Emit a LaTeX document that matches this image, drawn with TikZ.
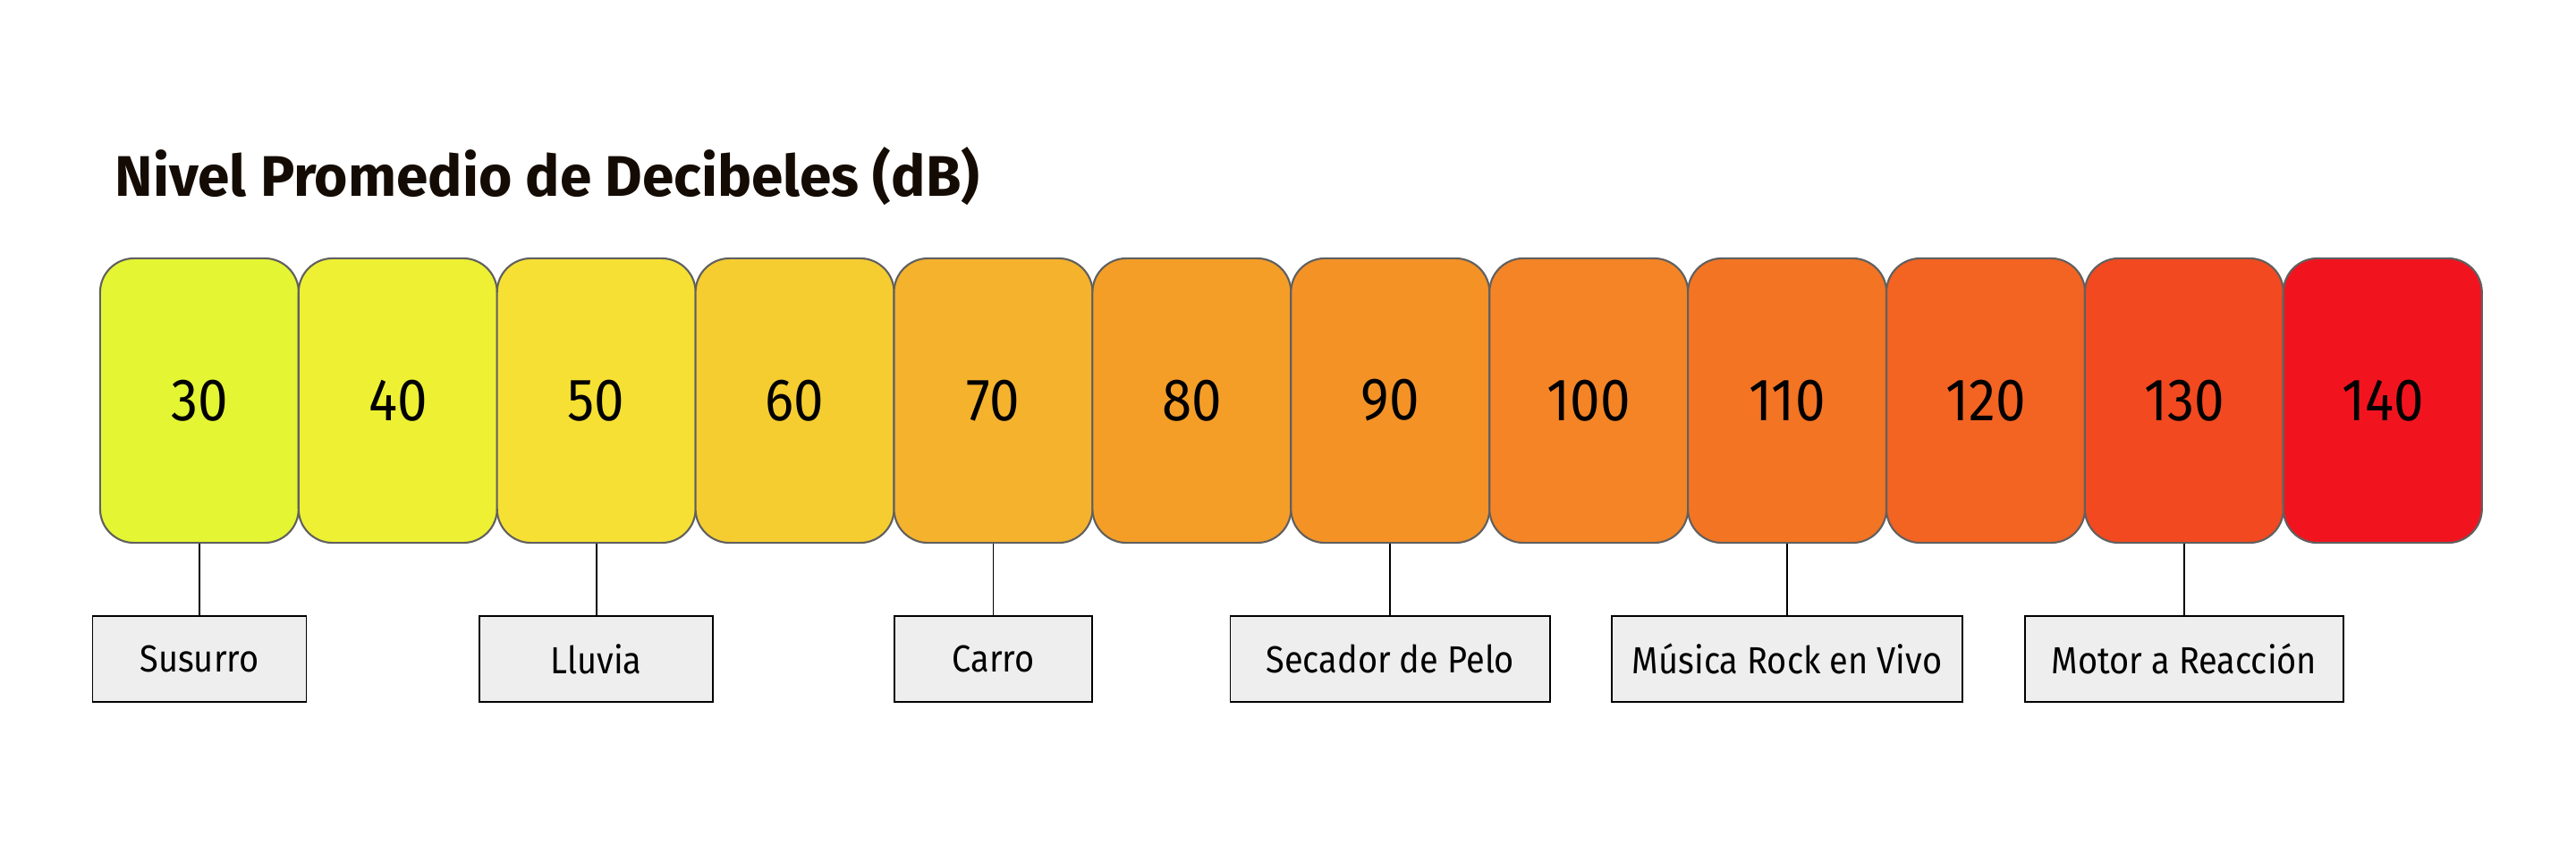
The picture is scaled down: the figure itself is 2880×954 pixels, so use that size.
\documentclass[tikz,border=0pt]{standalone}
\usepackage{fontspec}
\setmainfont{Fira Sans}
\newfontfamily\narrowsans[FakeStretch = 0.9]{Fira Sans}
\usepackage{xcolor}
\definecolor{dtitle}{HTML}{140C04}
\definecolor{dedge}{HTML}{606060}
\definecolor{dlabel}{HTML}{EEEEEE}
\definecolor{d30}{HTML}{E4F533}
\definecolor{d40}{HTML}{EEF033}
\definecolor{d50}{HTML}{F6E033}
\definecolor{d60}{HTML}{F5CD30}
\definecolor{d70}{HTML}{F5B22D}
\definecolor{d80}{HTML}{F49E28}
\definecolor{d90}{HTML}{F49226}
\definecolor{d100}{HTML}{F48425}
\definecolor{d110}{HTML}{F37423}
\definecolor{d120}{HTML}{F36322}
\definecolor{d130}{HTML}{F24920}
\definecolor{d140}{HTML}{F1141F}

\tikzset{
	level/.style = {draw = dedge, line width = .6pt, rounded corners = .38cm, minimum width = 2.219cm, minimum height = 3.18cm, inner sep = 0pt, font = \narrowsans\fontsize{19}{21}\selectfont, text = black},
	source/.style = {draw = black, line width = .45pt, fill = dlabel, minimum height = .96cm, inner sep = 0pt, font = \narrowsans\fontsize{12}{14}\selectfont},
	tick/.style = {draw = black, line width = .5pt}
}

\begin{document}
\begin{tikzpicture}[x = .01cm, y = -.01cm]
		\useasboundingbox (0,0) rectangle (2880,954);
		\node[anchor = base west, inner sep = 0pt, text = dtitle, font = \fontsize{18.2}{22}\selectfont\bfseries] (title) at (128,219) {Nivel Promedio de Decibeles (dB)};
		\node[level, fill = d30] (l30) at (222.9,448) {30};
		\node[level, fill = d40] (l40) at (444.8,448) {40};
		\node[level, fill = d50] (l50) at (666.7,448) {50};
		\node[level, fill = d60] (l60) at (888.6,448) {60};
		\node[level, fill = d70] (l70) at (1110.5,448) {70};
		\node[level, fill = d80] (l80) at (1332.4,448) {80};
		\node[level, fill = d90] (l90) at (1554.3,448) {90};
		\node[level, fill = d100] (l100) at (1776.2,448) {100};
		\node[level, fill = d110] (l110) at (1998.1,448) {110};
		\node[level, fill = d120] (l120) at (2220,448) {120};
		\node[level, fill = d130] (l130) at (2441.9,448) {130};
		\node[level, fill = d140] (l140) at (2663.8,448) {140};
		\node[source, minimum width = 2.39cm] (susurro) at (222.9,737) {Susurro};
		\node[source, minimum width = 2.61cm] (lluvia) at (666.7,737) {Lluvia};
		\node[source, minimum width = 2.21cm] (carro) at (1110.5,737) {Carro};
		\node[source, minimum width = 3.57cm] (secador) at (1554.3,737) {Secador de Pelo};
		\node[source, minimum width = 3.92cm] (rock) at (1998.1,737) {Música Rock en Vivo};
		\node[source, minimum width = 3.56cm] (motor) at (2441.9,737) {Motor a Reacción};
		\draw[tick] (l30.south) -- (susurro.north);
		\draw[tick] (l50.south) -- (lluvia.north);
		\draw[tick] (l70.south) -- (carro.north);
		\draw[tick] (l90.south) -- (secador.north);
		\draw[tick] (l110.south) -- (rock.north);
		\draw[tick] (l130.south) -- (motor.north);
	\end{tikzpicture}
\end{document}
